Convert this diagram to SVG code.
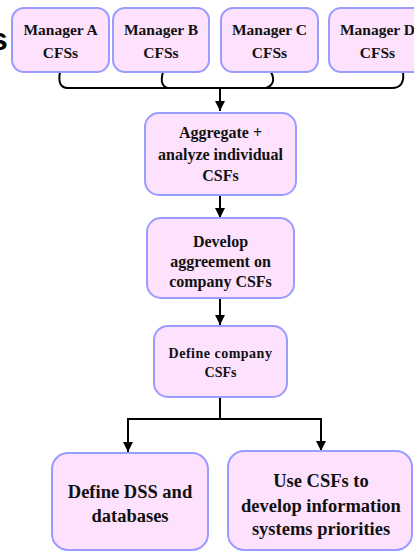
<svg xmlns="http://www.w3.org/2000/svg" width="414" height="552" viewBox="0 0 414 552">
  <style>
    .box { fill: #fde1fd; stroke: #9a9cff; stroke-width: 2; }
    .t { font-family: "Liberation Serif", "Times New Roman", serif; font-weight: bold; fill: #111; text-anchor: middle; }
    .conn { fill: none; stroke: #000; stroke-width: 2; }
  </style>
  <defs>
    <marker id="arrow" viewBox="0 0 10 10" refX="10" refY="5" markerWidth="5" markerHeight="5" orient="auto" markerUnits="strokeWidth">
      <path d="M0,0 L10,5 L0,10 z" fill="#000"/>
    </marker>
  </defs>

  <rect width="414" height="552" fill="#fff"/>

  <!-- title fragment at the left edge -->
  <text x="-10" y="50" font-family="Liberation Sans, Arial, sans-serif" font-weight="bold" font-size="32" fill="#000">s</text>

  <!-- connectors -->
  <g id="connectors">
    <path class="conn" d="M60,72 Q57,88 68,88"/>
    <path class="conn" d="M163,72 Q159,86 168,88"/>
    <path class="conn" d="M271,72 Q277,84 266,88"/>
    <path class="conn" d="M403,72 Q405,88 392,88"/>
    <path class="conn" d="M66,88 H392"/>
    <path class="conn" d="M220,88 V111" marker-end="url(#arrow)"/>
    <path class="conn" d="M220,195 V218" marker-end="url(#arrow)"/>
    <path class="conn" d="M220,298 V325" marker-end="url(#arrow)"/>
    <path class="conn" d="M220,397 V419 M128,419 H321"/>
    <path class="conn" d="M128,418 V452" marker-end="url(#arrow)"/>
    <path class="conn" d="M321,418 V451" marker-end="url(#arrow)"/>
  </g>

  <g id="managerA">
    <rect class="box" x="12" y="8" width="97" height="64" rx="12"/>
    <text class="t" x="60.5" y="35" font-size="15.5">Manager A</text>
    <text class="t" x="60.5" y="58" font-size="15.5">CFSs</text>
  </g>
  <g id="managerB">
    <rect class="box" x="113" y="8" width="96" height="64" rx="12"/>
    <text class="t" x="161" y="35" font-size="15.5">Manager B</text>
    <text class="t" x="161" y="58" font-size="15.5">CFSs</text>
  </g>
  <g id="managerC">
    <rect class="box" x="221" y="8" width="97" height="64" rx="12"/>
    <text class="t" x="269.5" y="35" font-size="15.5">Manager C</text>
    <text class="t" x="269.5" y="58" font-size="15.5">CFSs</text>
  </g>
  <g id="managerD">
    <rect class="box" x="329" y="8" width="97" height="64" rx="12"/>
    <text class="t" x="377.5" y="35" font-size="15.5">Manager D</text>
    <text class="t" x="377.5" y="58" font-size="15.5">CFSs</text>
  </g>

  <g id="aggregate">
    <rect class="box" x="145" y="113" width="151" height="82" rx="14"/>
    <text class="t" x="220.5" y="138" font-size="16">Aggregate +</text>
    <text class="t" x="220.5" y="160" font-size="16">analyze individual</text>
    <text class="t" x="220.5" y="181" font-size="16">CSFs</text>
  </g>

  <g id="develop">
    <rect class="box" x="147" y="218" width="147" height="80" rx="14"/>
    <text class="t" x="220.5" y="247" font-size="16">Develop</text>
    <text class="t" x="220.5" y="267" font-size="16">aggreement on</text>
    <text class="t" x="220.5" y="287" font-size="16">company CSFs</text>
  </g>

  <g id="defineCompany">
    <rect class="box" x="154" y="326" width="133" height="71" rx="14"/>
    <text class="t" x="220.5" y="358" font-size="14" letter-spacing="0.5">Define company</text>
    <text class="t" x="220.5" y="377" font-size="14">CSFs</text>
  </g>

  <g id="defineDSS">
    <rect class="box" x="52" y="453" width="156" height="97" rx="16"/>
    <text class="t" x="130" y="498" font-size="18.5">Define DSS and</text>
    <text class="t" x="130" y="522" font-size="18.5">databases</text>
  </g>

  <g id="useCSFs">
    <rect class="box" x="228" y="451" width="184" height="99" rx="16"/>
    <text class="t" x="321" y="487" font-size="18.5">Use CSFs to</text>
    <text class="t" x="321" y="512" font-size="18.5">develop information</text>
    <text class="t" x="321" y="535" font-size="18.5">systems priorities</text>
  </g>
</svg>
